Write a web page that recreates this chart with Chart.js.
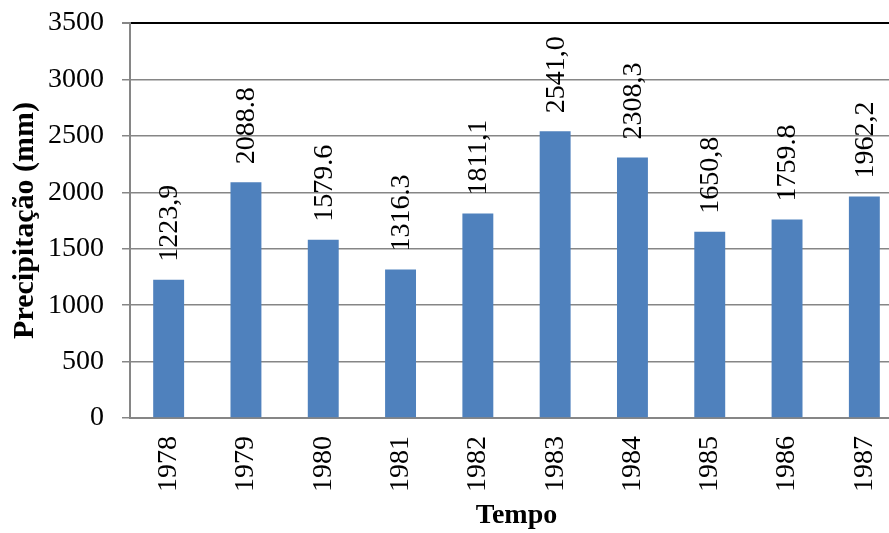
<!DOCTYPE html>
<html>
<head>
<meta charset="utf-8">
<script src="https://cdn.jsdelivr.net/npm/chart.js@4.4.1/dist/chart.umd.min.js"></script>
<style>
  html, body { margin: 0; padding: 0; overflow: hidden; background: #fff; }
  #wrap { position: relative; width: 906px; height: 533px; }
</style>
</head>
<body>
<div id="wrap"><canvas id="c"></canvas></div>
<script>
const categories = ['1978','1979','1980','1981','1982','1983','1984','1985','1986','1987'];
const precipitation = [1223.9, 2088.8, 1579.6, 1316.3, 1811.1, 2541.0, 2308.3, 1650.8, 1759.8, 1962.2];
const valueLabels = ['1223,9','2088.8','1579.6','1316.3','1811,1','2541,0','2308,3','1650,8','1759.8','1962,2'];
const yTicks = [0, 500, 1000, 1500, 2000, 2500, 3000, 3500];

const FONT = "'Liberation Serif', 'Times New Roman', serif";

const valueLabelPlugin = {
  id: 'valueLabels',
  afterDatasetsDraw(chart) {
    const ctx = chart.ctx;
    const meta = chart.getDatasetMeta(0);
    ctx.save();
    ctx.font = '28px ' + FONT;
    ctx.fillStyle = '#000';
    ctx.textAlign = 'left';
    ctx.textBaseline = 'middle';
    meta.data.forEach((bar, i) => {
      ctx.save();
      ctx.translate(bar.x + 1, bar.y - 18);
      ctx.rotate(-Math.PI / 2);
      ctx.fillText(valueLabels[i], 0, 0);
      ctx.restore();
    });
    ctx.restore();
  }
};

new Chart(document.getElementById('c'), {
  type: 'bar',
  data: {
    labels: categories,
    datasets: [{
      data: precipitation,
      backgroundColor: '#4F81BD',
      borderWidth: 0,
      barPercentage: 0.4,
      categoryPercentage: 1.0
    }]
  },
  options: {
    responsive: true,
    maintainAspectRatio: false,
    animation: false,
    layout: { padding: { top: 23, right: 3, left: 0, bottom: 0 } },
    plugins: { legend: { display: false }, tooltip: { enabled: false } },
    scales: {
      x: {
        grid: { display: false, drawTicks: false },
        border: { color: '#868686', width: 2 },
        ticks: {
          font: { family: FONT, size: 28 },
          color: '#000',
          minRotation: 90, maxRotation: 90,
          padding: 18
        },
        title: {
          display: true, text: 'Tempo',
          font: { family: FONT, size: 28, weight: 'bold' },
          color: '#000',
          padding: { top: 0, bottom: 0 }
        },
        afterFit(scale) { scale.height = 115; scale.paddingLeft = 0; scale.paddingRight = 0; }
      },
      y: {
        min: 0, max: 3500,
        afterBuildTicks(scale) { scale.ticks = yTicks.map(v => ({ value: v })); },
        grid: {
          color: ctx => (ctx.tick && ctx.tick.value === 3500) ? '#000' : '#868686',
          lineWidth: ctx => (ctx.tick && ctx.tick.value === 3500) ? 2 : 1.5,
          tickLength: 8,
          tickColor: '#868686'
        },
        border: { color: '#868686', width: 2 },
        ticks: {
          font: { family: FONT, size: 28 },
          color: '#000',
          padding: 18,
          callback: v => String(v)
        },
        title: {
          display: true, text: 'Precipitação (mm)',
          font: { family: FONT, size: 30, weight: 'bold' },
          color: '#000',
          padding: { top: 7, bottom: 0 }
        },
        afterFit(scale) { scale.width = 130; scale.paddingTop = 0; scale.paddingBottom = 0; }
      }
    }
  },
  plugins: [valueLabelPlugin]
});
</script>
</body>
</html>
